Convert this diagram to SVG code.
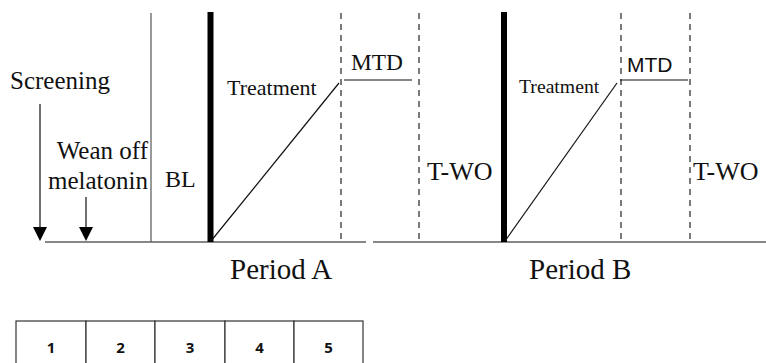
<svg xmlns="http://www.w3.org/2000/svg" width="766" height="363" viewBox="0 0 766 363">
<defs>
<style>
.t{font-family:"Liberation Serif","Times New Roman",serif;fill:#111}
.s{font-family:"Liberation Sans",Arial,sans-serif;fill:#111}
.n{font-family:"Open Sans","Liberation Sans",sans-serif;font-weight:bold;font-size:15px;fill:#111;text-anchor:middle}
.ln{stroke:#111;stroke-width:1.2;fill:none}
.thin{stroke:#555;stroke-width:1.2;fill:none}
.thick{stroke:#000;stroke-width:6;fill:none}
.dash{stroke:#222;stroke-width:1.2;stroke-dasharray:6,5;fill:none}
.cell{fill:#fff;stroke:#333;stroke-width:1.2}
</style>
</defs>
<rect width="766" height="363" fill="#fff"/>
<g id="connectors">
<line class="ln" x1="45" y1="242" x2="366" y2="242"/>
<line class="ln" x1="373" y1="242" x2="766" y2="242"/>
<line class="ln" x1="40" y1="104" x2="40" y2="228"/>
<path d="M33,227 L47,227 L40,241 Z" fill="#000"/>
<line class="ln" x1="86" y1="197" x2="86" y2="228"/>
<path d="M79,227 L93,227 L86,241 Z" fill="#000"/>
<line class="thin" x1="151" y1="13" x2="151" y2="242"/>
<line class="thick" x1="210.5" y1="12" x2="210.5" y2="242"/>
<line class="thick" x1="504" y1="12" x2="504" y2="242"/>
<line class="dash" x1="341" y1="13" x2="341" y2="242"/>
<line class="dash" x1="419" y1="13" x2="419" y2="242"/>
<line class="dash" x1="621" y1="13" x2="621" y2="242"/>
<line class="dash" x1="690" y1="13" x2="690" y2="242"/>
<line class="ln" x1="211" y1="241" x2="339" y2="83"/>
<line class="ln" x1="505" y1="241" x2="617" y2="83"/>
<line class="ln" x1="344" y1="80" x2="412" y2="80"/>
<line class="ln" x1="620" y1="80" x2="688" y2="80"/>
</g>
<g id="screening"><text class="t" x="10" y="89" font-size="25">Screening</text></g>
<g id="wean"><text class="t" x="148" y="159" font-size="25" text-anchor="end">Wean off</text><text class="t" x="148" y="189" font-size="25" text-anchor="end">melatonin</text></g>
<g id="bl"><text class="t" x="165" y="187" font-size="24">BL</text></g>
<g id="treatmentA"><text class="t" x="227" y="95" font-size="22">Treatment</text></g>
<g id="mtdA"><text class="t" x="351" y="70" font-size="23.4">MTD</text></g>
<g id="twoA"><text class="t" x="427" y="180" font-size="26">T-WO</text></g>
<g id="treatmentB"><text class="t" x="519" y="93" font-size="19.7">Treatment</text></g>
<g id="mtdB"><text class="s" x="627" y="72" font-size="21">MTD</text></g>
<g id="twoB"><text class="t" x="693" y="180" font-size="26">T-WO</text></g>
<g id="periodA"><text class="t" x="230" y="279" font-size="29">Period A</text></g>
<g id="periodB"><text class="t" x="529" y="279" font-size="29">Period B</text></g>
<g id="table">
<rect class="cell" x="16" y="321" width="70" height="50"/>
<rect class="cell" x="86" y="321" width="69" height="50"/>
<rect class="cell" x="155" y="321" width="70" height="50"/>
<rect class="cell" x="225" y="321" width="69" height="50"/>
<rect class="cell" x="294" y="321" width="69" height="50"/>
<text class="n" x="51" y="353">1</text>
<text class="n" x="120.5" y="353">2</text>
<text class="n" x="190" y="353">3</text>
<text class="n" x="259.5" y="353">4</text>
<text class="n" x="328.5" y="353">5</text>
</g>
</svg>
